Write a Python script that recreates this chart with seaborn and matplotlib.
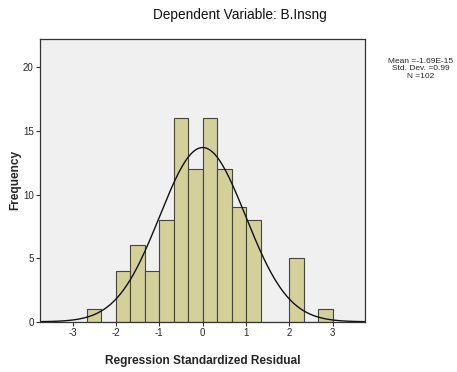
import numpy as np
import pandas as pd
import matplotlib
matplotlib.use("Agg")
import matplotlib.pyplot as plt
import seaborn as sns

# histogram of standardized residuals (bin width 1/3)
bin_start = -8 / 3
bin_width = 1 / 3
counts = [1, 0, 4, 6, 4, 8, 16, 12, 16, 12, 9, 8, 0, 0, 5, 0, 1]

res_mean = -1.69e-15
res_std = 0.99
n_obs = 102

edges = bin_start + bin_width * np.arange(len(counts) + 1)
centers = (edges[:-1] + edges[1:]) / 2
df = pd.DataFrame({"resid": centers, "count": counts})

sns.set_style("white")
plt.rcParams['font.family'] = ['Liberation Sans', 'DejaVu Sans']
plt.rcParams['axes.unicode_minus'] = False

fig = plt.figure(figsize=(4.57, 3.72), dpi=100)
ax = fig.add_axes([0.0875, 0.135, 0.712, 0.759])
ax.set_facecolor("#F0F0F0")

sns.histplot(data=df, x="resid", weights="count", bins=list(edges), ax=ax,
             color="#D4D09A", alpha=1, edgecolor="#444444", linewidth=0.8)

# normal curve scaled to counts
xs = np.linspace(-3.75, 3.75, 300)
pdf = np.exp(-0.5 * ((xs - res_mean) / res_std) ** 2) / (res_std * np.sqrt(2 * np.pi))
sns.lineplot(x=xs, y=pdf * n_obs * bin_width, ax=ax, color="#111111", linewidth=1.0)

ax.set_xlim(-3.75, 3.75)
ax.set_ylim(0, 22.2)
ax.set_xticks([-3, -2, -1, 0, 1, 2, 3])
ax.set_yticks([0, 5, 10, 15, 20])
ax.tick_params(axis="both", direction="out", length=3, width=0.8, color="#333333",
               labelsize=7, pad=1.5, bottom=True, left=True)
for s in ax.spines.values():
    s.set_color("#333333")
    s.set_linewidth(0.9)

ax.set_xlabel("Regression Standardized Residual", fontsize=8.6, fontweight="bold", labelpad=12)
ax.set_ylabel("")
fig.text(15 / 457, 1 - 180 / 372, "Frequency", fontsize=8.6, fontweight="bold",
         rotation=90, ha="center", va="center")

fig.text(240 / 457, 1 - 15 / 372, "Dependent Variable: B.Insng", fontsize=9.8,
         color="#111111", ha="center", va="center")
fig.text(421 / 457, 1 - 69 / 372,
         f"Mean =-1.69E-15\nStd. Dev. ={res_std}\nN ={n_obs}",
         fontsize=6, ha="center", va="center", linespacing=1.05)

fig.savefig("out.png", dpi=100)
